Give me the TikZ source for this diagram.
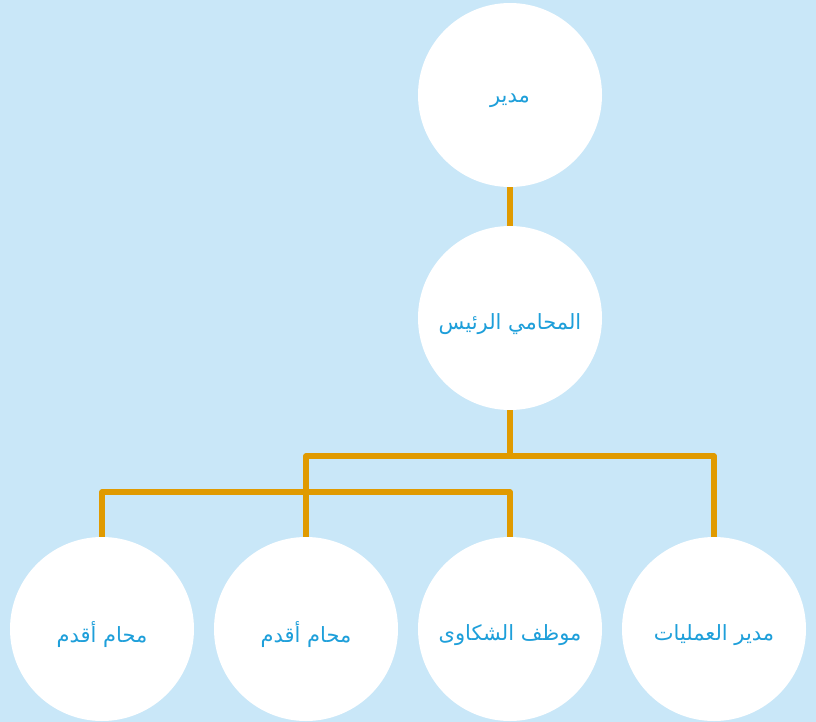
\documentclass[tikz,border=0pt]{standalone}
\usepackage{fontspec}
\newfontfamily\arabicfont[Script=Arabic]{DejaVu Sans}
\TeXXeTstate=1
\definecolor{bgblue}{HTML}{C9E7F8}
\definecolor{linkorange}{HTML}{E09A00}
\definecolor{labelblue}{HTML}{1E9FDA}
\tikzset{
  person/.style={circle, fill=white, draw=none, minimum size=184pt, inner sep=0pt,
    text=labelblue, font=\arabicfont\fontsize{21pt}{24pt}\selectfont},
  title/.style={person, fill=none, yshift=-6pt},
  link/.style={draw=linkorange, line width=5.5pt, line join=round}
}
\begin{document}
\begin{tikzpicture}[x=1pt, y=-1pt]
  \fill[bgblue] (0,0) rectangle (816,722);
  \useasboundingbox (0,0) rectangle (816,722);

  % org chart members
  \node[person] (boss)  at (510,95)  {};
  \node[person] (chief) at (510,318) {};
  \node[person] (lawA)  at (102,629) {};
  \node[person] (lawB)  at (306,629) {};
  \node[person] (compl) at (510,629) {};
  \node[person] (ops)   at (714,629) {};

  % their titles
  \node[title] (bossT)  at (boss)  {\beginR مدير\endR};
  \node[title] (chiefT) at (chief) {\beginR المحامي الرئيس\endR};
  \node[title] (lawAT)  at (lawA)  {\beginR محام أقدم\endR};
  \node[title] (lawBT)  at (lawB)  {\beginR محام أقدم\endR};
  \node[title] (complT) at (compl) {\beginR موظف الشكاوى\endR};
  \node[title] (opsT)   at (ops)   {\beginR مدير العمليات\endR};

  \coordinate (split) at (510,456);
  \coordinate (rail)  at (102,492);

  % reporting lines
  \path[link] (boss) -- (chief);
  \path[link] (chief) -- (split);
  \path[link] (lawB.north) |- (split) -| (ops.north);
  \path[link] (lawA.north) -- (rail) -| (compl.north);
\end{tikzpicture}
\end{document}
